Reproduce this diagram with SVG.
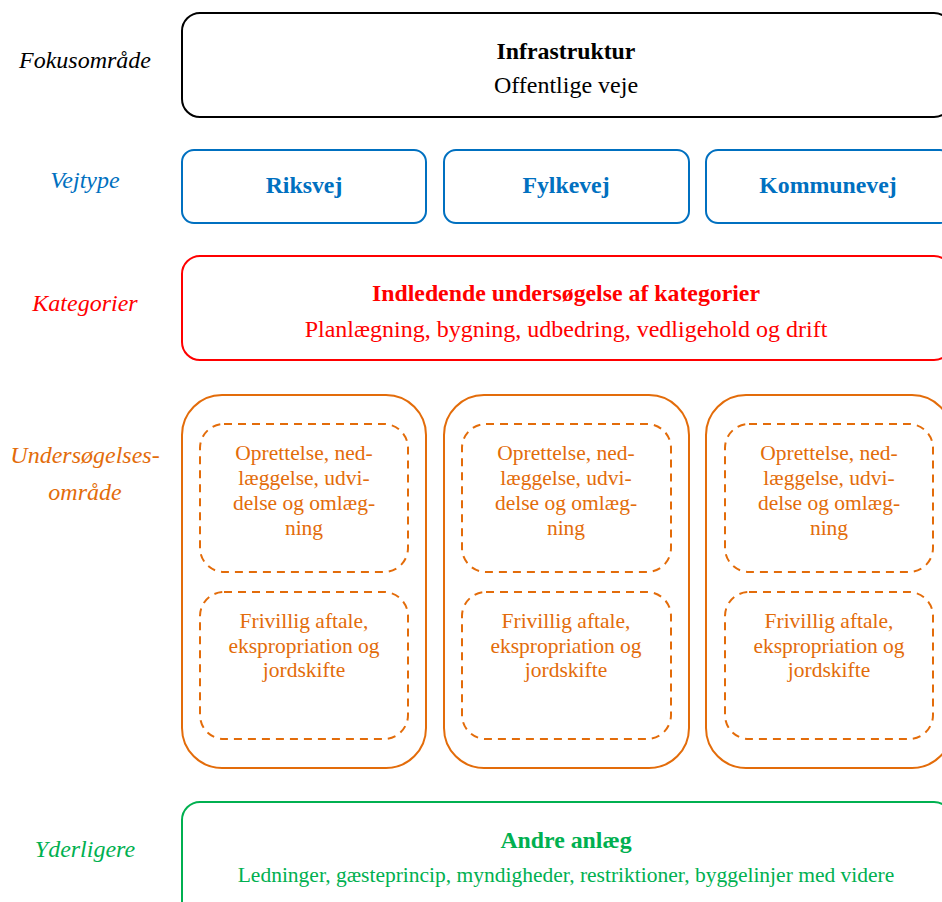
<svg xmlns="http://www.w3.org/2000/svg" width="942" height="902" viewBox="0 0 942 902">
  <style>
    text { font-family: "Liberation Serif", "Times New Roman", serif; text-anchor: middle; }
    .lbl { font-style: italic; font-size: 24px; }
    .title { font-weight: bold; font-size: 23.8px; }
    .sub { font-size: 24px; }
    .small { font-size: 21.5px; }
    .box { fill: #fff; stroke-width: 2; }
    .dash { fill: none; stroke-width: 2; stroke-dasharray: 8 6; }
    .k { fill: #000; } .b { fill: #0070C0; } .r { fill: #FF0000; } .o { fill: #E36C0A; } .g { fill: #00B050; }
  </style>

  <!-- row labels -->
  <g id="labels">
    <text class="lbl k" x="85" y="68">Fokusområde</text>
    <text class="lbl b" x="85" y="188">Vejtype</text>
    <text class="lbl r" x="85" y="311">Kategorier</text>
    <text class="lbl o" x="85" y="463">Undersøgelses-</text>
    <text class="lbl o" x="85" y="500">område</text>
    <text class="lbl g" x="85" y="857">Yderligere</text>
  </g>

  <g id="infrastruktur">
    <rect class="box" x="182" y="13" width="770" height="104" rx="18" stroke="#000"/>
    <text class="title k" x="566" y="59">Infrastruktur</text>
    <text class="sub k" x="566" y="93">Offentlige veje</text>
  </g>

  <g id="riksvej">
    <rect class="box" x="182" y="150" width="244" height="73" rx="12" stroke="#0070C0"/>
    <text class="title b" x="304" y="193">Riksvej</text>
  </g>
  <g id="fylkevej">
    <rect class="box" x="444" y="150" width="245" height="73" rx="12" stroke="#0070C0"/>
    <text class="title b" x="566" y="193">Fylkevej</text>
  </g>
  <g id="kommunevej">
    <rect class="box" x="706" y="150" width="246" height="73" rx="12" stroke="#0070C0"/>
    <text class="title b" x="828" y="193">Kommunevej</text>
  </g>

  <g id="kategorier">
    <rect class="box" x="182" y="256" width="770" height="104" rx="18" stroke="#FF0000"/>
    <text class="title r" x="566" y="301">Indledende undersøgelse af kategorier</text>
    <text class="sub r" x="566" y="337">Planlægning, bygning, udbedring, vedligehold og drift</text>
  </g>

  <!-- investigation columns -->
  <g id="omraade-1">
    <rect class="box" x="182" y="395" width="244" height="373" rx="40" stroke="#E36C0A"/>
    <rect class="dash" x="200" y="424" width="208" height="148" rx="24" stroke="#E36C0A"/>
    <text class="small o" x="304" y="460">Oprettelse, ned-</text>
    <text class="small o" x="304" y="485">læggelse, udvi-</text>
    <text class="small o" x="304" y="510">delse og omlæg-</text>
    <text class="small o" x="304" y="535">ning</text>
    <rect class="dash" x="200" y="592" width="208" height="147" rx="24" stroke="#E36C0A"/>
    <text class="small o" x="304" y="628">Frivillig aftale,</text>
    <text class="small o" x="304" y="653">ekspropriation og</text>
    <text class="small o" x="304" y="677">jordskifte</text>
  </g>
  <g id="omraade-2">
    <rect class="box" x="444" y="395" width="245" height="373" rx="40" stroke="#E36C0A"/>
    <rect class="dash" x="462" y="424" width="209" height="148" rx="24" stroke="#E36C0A"/>
    <text class="small o" x="566" y="460">Oprettelse, ned-</text>
    <text class="small o" x="566" y="485">læggelse, udvi-</text>
    <text class="small o" x="566" y="510">delse og omlæg-</text>
    <text class="small o" x="566" y="535">ning</text>
    <rect class="dash" x="462" y="592" width="209" height="147" rx="24" stroke="#E36C0A"/>
    <text class="small o" x="566" y="628">Frivillig aftale,</text>
    <text class="small o" x="566" y="653">ekspropriation og</text>
    <text class="small o" x="566" y="677">jordskifte</text>
  </g>
  <g id="omraade-3">
    <rect class="box" x="706" y="395" width="246" height="373" rx="40" stroke="#E36C0A"/>
    <rect class="dash" x="725" y="424" width="208" height="148" rx="24" stroke="#E36C0A"/>
    <text class="small o" x="829" y="460">Oprettelse, ned-</text>
    <text class="small o" x="829" y="485">læggelse, udvi-</text>
    <text class="small o" x="829" y="510">delse og omlæg-</text>
    <text class="small o" x="829" y="535">ning</text>
    <rect class="dash" x="725" y="592" width="208" height="147" rx="24" stroke="#E36C0A"/>
    <text class="small o" x="829" y="628">Frivillig aftale,</text>
    <text class="small o" x="829" y="653">ekspropriation og</text>
    <text class="small o" x="829" y="677">jordskifte</text>
  </g>

  <g id="andre-anlaeg">
    <rect class="box" x="182" y="802" width="770" height="120" rx="18" stroke="#00B050"/>
    <text class="title g" x="566" y="848">Andre anlæg</text>
    <text class="small g" x="566" y="882">Ledninger, gæsteprincip, myndigheder, restriktioner, byggelinjer med videre</text>
  </g>

  <g id="connectors"/>
</svg>
